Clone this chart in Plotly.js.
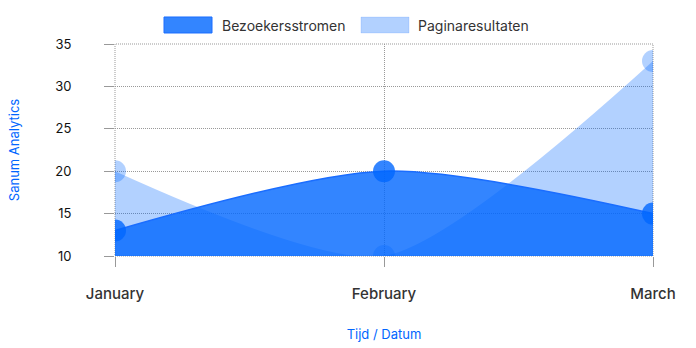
<!DOCTYPE html>
<html><head><meta charset="utf-8">
<script src="https://cdn.plot.ly/plotly-3.0.1.min.js"></script>
<style>html,body{margin:0;padding:0;background:#fff}#c{width:696px;height:348px}</style>
</head><body><div id="c"></div>
<script>
const months = ["January", "February", "March"];
const bezoekers = [13, 20, 15];
const pagina = [20, 10, 33];
const seriesNames = ["Bezoekersstromen", "Paginaresultaten"];

const darkFill = "rgba(0,102,255,0.8)";
const lightFill = "rgba(0,102,255,0.3)";
const darkLine = "#1a6dff";

const traces = [
  {x: months, y: pagina, name: seriesNames[1], type: "scatter", mode: "none",
   fill: "tozeroy", fillcolor: lightFill, line: {shape: "spline", smoothing: 0.7, width: 0},
   showlegend: false, hoverinfo: "skip"},
  {x: months, y: pagina, type: "scatter", mode: "markers", showlegend: false,
   marker: {size: 22, color: lightFill}},
  {x: months, y: bezoekers, name: seriesNames[0], type: "scatter", mode: "lines",
   fill: "tozeroy", fillcolor: darkFill, line: {shape: "spline", smoothing: 0.8, width: 1.5, color: darkLine},
   showlegend: false},
  {x: months, y: bezoekers, type: "scatter", mode: "markers", showlegend: false,
   marker: {size: 22, color: darkFill}}
];

// legend drawn as boxes + text in paper coordinates
const legendItems = [
  {name: seriesNames[0], fill: darkFill, border: darkLine, x0: 0.0911, x1: 0.1803, tx: 0.1952},
  {name: seriesNames[1], fill: lightFill, border: "rgba(0,102,255,0.12)", x0: 0.4572, x1: 0.5465, tx: 0.5595}
];
const gridDash = "1px,1px";
const gridColor = "#999";
const shapes = [
  {type: "rect", xref: "paper", yref: "paper", x0: 0, x1: 1, y0: 0, y1: 1,
   line: {color: gridColor, width: 1, dash: gridDash}, fillcolor: "rgba(0,0,0,0)", layer: "below"}
];
const annotations = [];
legendItems.forEach(it => {
  shapes.push({type: "rect", xref: "paper", yref: "paper", x0: it.x0, x1: it.x1, y0: 1.0519, y1: 1.1274,
               fillcolor: it.fill, line: {color: it.border, width: 1}});
  annotations.push({xref: "paper", yref: "paper", x: it.tx, y: 1.0896, xanchor: "left", yanchor: "middle",
                    text: it.name, showarrow: false, font: {size: 14, color: "#333"}});
});

const layout = {
  width: 696, height: 348,
  margin: {l: 115, r: 43, t: 44, b: 92, autoexpand: false},
  paper_bgcolor: "#fff", plot_bgcolor: "#fff",
  font: {family: "Inter, sans-serif", color: "#333"},
  showlegend: false,
  xaxis: {type: "category", range: [0, 2], showgrid: true, gridcolor: gridColor, griddash: gridDash,
          gridwidth: 1, zeroline: false, showline: false,
          ticks: "outside", ticklen: 10, tickcolor: "#999",
          ticklabelstandoff: 14, tickfont: {size: 15, color: "#333", family: "Inter, sans-serif", weight: 500},
          title: {text: "Tijd / Datum", font: {size: 13, color: "#0066ff"}, standoff: 27}},
  yaxis: {range: [10, 35], dtick: 5, showgrid: true, gridcolor: gridColor, griddash: gridDash,
          gridwidth: 1, zeroline: false, showline: false,
          ticks: "outside", ticklen: 10, tickcolor: "#999",
          ticklabelstandoff: 30, tickfont: {size: 13, color: "#111"},
          title: {text: "Sanum Analytics", font: {size: 13, color: "#0066ff"}, standoff: 32}},
  shapes: shapes,
  annotations: annotations
};

Plotly.newPlot("c", traces, layout, {displayModeBar: false, staticPlot: true});
</script></body></html>
